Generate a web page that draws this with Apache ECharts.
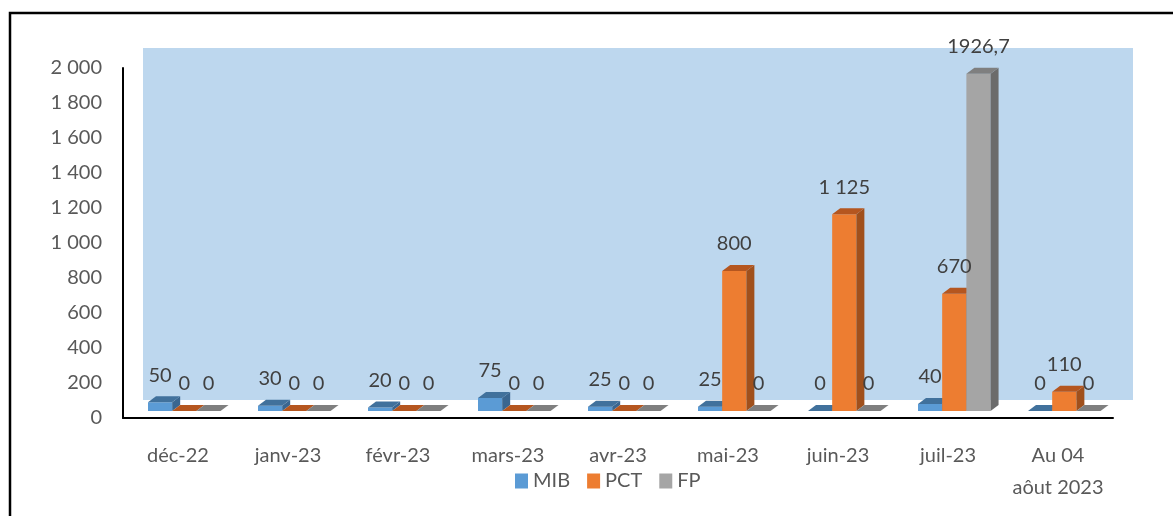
<!DOCTYPE html>
<html>
<head>
<meta charset="utf-8">
<script src="https://cdn.jsdelivr.net/npm/echarts@6/dist/echarts.min.js"></script>
<style>
  html, body { margin: 0; padding: 0; background: #fff; }
  #main { width: 1173px; height: 516px; }
</style>
</head>
<body>
<div id="main"></div>
<script>
// données
const categories = ['déc-22', 'janv-23', 'févr-23', 'mars-23', 'avr-23', 'mai-23', 'juin-23', 'juil-23', 'Au 04\naôut 2023'];
const seriesNames = ['MIB', 'PCT', 'FP'];
const mibValues = [50, 30, 20, 75, 25, 25, 0, 40, 0];
const pctValues = [0, 0, 0, 0, 0, 800, 1125, 670, 110];
const fpValues = [0, 0, 0, 0, 0, 0, 0, 1926.7, 0];
const yMax = 2000;
const yStep = 200;

// couleurs : face, dessus, côté
const palette = [
  ['#5B9BD5', '#41719C', '#3A6690'],
  ['#ED7D31', '#B5561F', '#A0501C'],
  ['#A5A5A5', '#7F7F7F', '#6B6B6B']
];

const font = 'Lato, "Liberation Sans", sans-serif';
const allValues = [mibValues, pctValues, fpValues];

function fr(v) {
  if (!Number.isInteger(v)) return String(v).replace('.', ',');
  return String(v).replace(/\B(?=(\d{3})+(?!\d))/g, ' ');
}

// géométrie commune des colonnes 3D
function box(api, ci, v, s) {
  const base = api.coord([ci, 0]);
  const top = api.coord([ci, v]);
  const band = api.size([1, 0])[0];
  const w = band * 0.22;
  const x0 = base[0] - band / 2 + band * 0.227 + s * w;
  const lift = 7;
  return { x0: x0, w: w, yb: base[1] - lift, yt: top[1] - lift, dx: 8, dd: 6 };
}

function makeRender(s) {
  return function (params, api) {
    const b = box(api, api.value(0), api.value(1), s);
    const c = palette[s];
    return {
      type: 'group',
      children: [
        { type: 'rect', shape: { x: b.x0, y: b.yt, width: b.w, height: b.yb - b.yt }, style: { fill: c[0] } },
        { type: 'polygon', shape: { points: [[b.x0 + b.w, b.yt], [b.x0 + b.w + b.dx, b.yt - b.dd], [b.x0 + b.w + b.dx, b.yb - b.dd], [b.x0 + b.w, b.yb]] }, style: { fill: c[2] } },
        { type: 'polygon', shape: { points: [[b.x0, b.yt], [b.x0 + b.dx, b.yt - b.dd], [b.x0 + b.w + b.dx, b.yt - b.dd], [b.x0 + b.w, b.yt]] }, style: { fill: c[1] } }
      ]
    };
  };
}

function renderLabel(params, api) {
  const v = api.value(1);
  const b = box(api, api.value(0), v, api.value(2));
  return {
    type: 'text',
    style: { x: b.x0 + b.w / 2, y: b.yt - b.dd - 21, text: fr(v), fill: '#404040', font: '20px ' + font, align: 'center', verticalAlign: 'middle' }
  };
}

const labelData = [];
allValues.forEach((arr, s) => arr.forEach((v, i) => labelData.push([i, v, s])));

const series = seriesNames.map((name, s) => ({
  name: name,
  type: 'custom',
  renderItem: makeRender(s),
  itemStyle: { color: palette[s][0] },
  encode: { x: 0, y: 1 },
  clip: false,
  data: allValues[s].map((v, i) => [i, v])
}));
series.push({
  type: 'custom',
  z: 10,
  renderItem: renderLabel,
  encode: { x: 0, y: 1 },
  clip: false,
  silent: true,
  data: labelData
});

const chart = echarts.init(document.getElementById('main'));
chart.setOption({
  animation: false,
  textStyle: { fontFamily: font },
  graphic: [
    { type: 'rect', z: -10, shape: { x: 143, y: 48, width: 990, height: 352 }, style: { fill: '#BDD7EE' } },
    { type: 'rect', z: 100, shape: { x: 10, y: 13, width: 1200, height: 600 }, style: { fill: 'none', stroke: '#000', lineWidth: 2.5 } }
  ],
  grid: { left: 123, right: 60, top: 68, bottom: 98 },
  legend: {
    left: 510, top: 466,
    icon: 'rect', itemWidth: 13, itemHeight: 15, itemGap: 17,
    textStyle: { fontSize: 20, color: '#595959', fontFamily: font },
    data: seriesNames
  },
  xAxis: {
    type: 'category',
    data: categories,
    axisLine: { lineStyle: { color: '#000', width: 2 } },
    axisTick: { show: false },
    axisLabel: { margin: 22, fontSize: 20, color: '#595959', lineHeight: 32, fontFamily: font, interval: 0 }
  },
  yAxis: {
    type: 'value',
    min: 0, max: yMax, interval: yStep,
    axisLine: { show: true, lineStyle: { color: '#000', width: 2 } },
    axisTick: { show: false },
    splitLine: { show: false },
    axisLabel: { margin: 21, fontSize: 20, color: '#595959', fontFamily: font, formatter: fr }
  },
  series: series
});
</script>
</body>
</html>
